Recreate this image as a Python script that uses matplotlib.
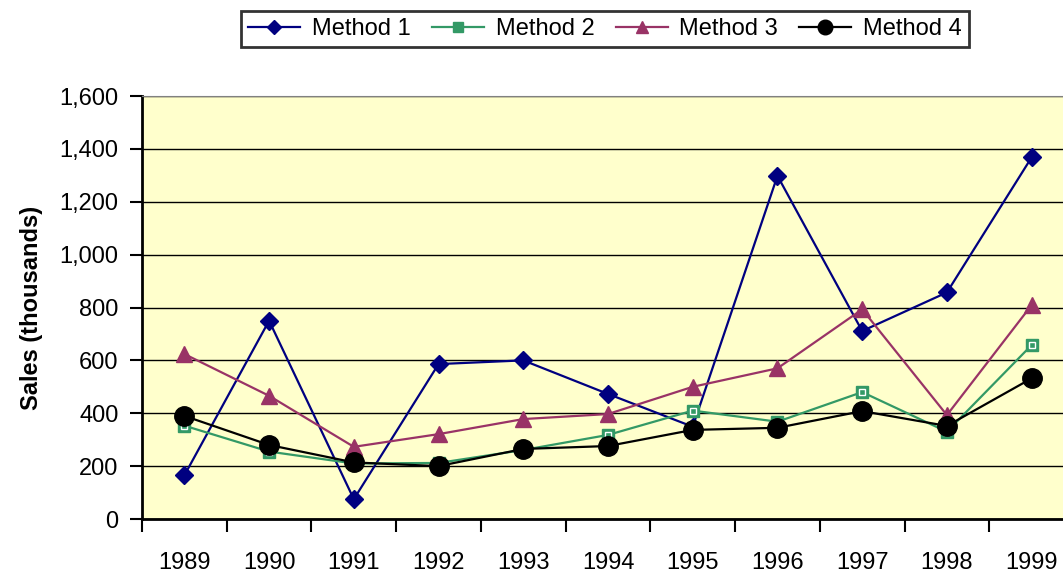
import numpy as np
import matplotlib.pyplot as plt
from matplotlib.ticker import FuncFormatter, FixedLocator

plt.rcParams['font.family'] = ['Liberation Sans', 'DejaVu Sans']

# данные с графика
years = ['1989', '1990', '1991', '1992', '1993', '1994', '1995', '1996', '1997', '1998', '1999']
method1 = [165, 750, 75, 586, 600, 473, 349, 1298, 711, 857, 1368]
method2 = [353, 255, 210, 212, 261, 318, 410, 368, 480, 330, 658]
method3 = [624, 466, 273, 321, 378, 397, 500, 570, 793, 393, 809]
method4 = [390, 280, 214, 200, 265, 276, 337, 345, 408, 352, 532]

fig = plt.figure(figsize=(10.63, 5.73), dpi=100)
ax = fig.add_axes([142 / 1063, 1 - 519 / 573, 932 / 1063, 423 / 573])
ax.set_facecolor('#FFFFCC')

x = np.arange(len(years))
l1, = ax.plot(x, method1, color='#000080', lw=1.6, marker='D', ms=9, label='Method 1')
l2, = ax.plot(x, method2, color='#339966', lw=1.6, marker='s', ms=9, label='Method 2')
# белая рамка внутри зелёного квадрата
ax.plot(x, method2, ls='none', marker='s', ms=5, mfc='none', mec='white', mew=1)
l3, = ax.plot(x, method3, color='#993366', lw=1.6, marker='^', ms=12, label='Method 3')
l4, = ax.plot(x, method4, color='black', lw=1.6, marker='o', ms=14, label='Method 4')

ax.set_xlim(-0.5, len(years) - 0.5)
ax.set_ylim(0, 1600)
ax.set_yticks(np.arange(0, 1601, 200))
ax.yaxis.set_major_formatter(FuncFormatter(lambda v, p: f'{int(v):,}'))
ax.grid(axis='y', color='black', lw=1)
ax.set_axisbelow(True)

ax.set_xticks(x)
ax.set_xticklabels(years)
ax.xaxis.set_minor_locator(FixedLocator(np.arange(-0.5, len(years), 1)))
ax.tick_params(axis='x', which='major', length=0, pad=24, labelsize=17)
ax.tick_params(axis='x', which='minor', length=9, width=1.5, direction='out')
ax.tick_params(axis='y', length=9, width=1.5, direction='out', pad=8, labelsize=17)

for s in ['left', 'bottom']:
    ax.spines[s].set_linewidth(2)
ax.spines['top'].set_color('grey')
ax.spines['right'].set_visible(False)

ax.set_ylabel('Sales (thousands)', fontsize=17, fontweight='bold', labelpad=12)

leg = fig.legend(handles=[l1, l2, l3, l4], loc='center', bbox_to_anchor=(605 / 1063, 1 - 29 / 573),
                 ncol=4, frameon=True, fancybox=False, edgecolor='black',
                 prop={'size': 17},
                 handlelength=2.2, handletextpad=0.5, columnspacing=0.9, borderpad=0.3,
                 markerscale=0.75)
leg.get_frame().set_linewidth(2)

plt.savefig('out.png', dpi=100)
